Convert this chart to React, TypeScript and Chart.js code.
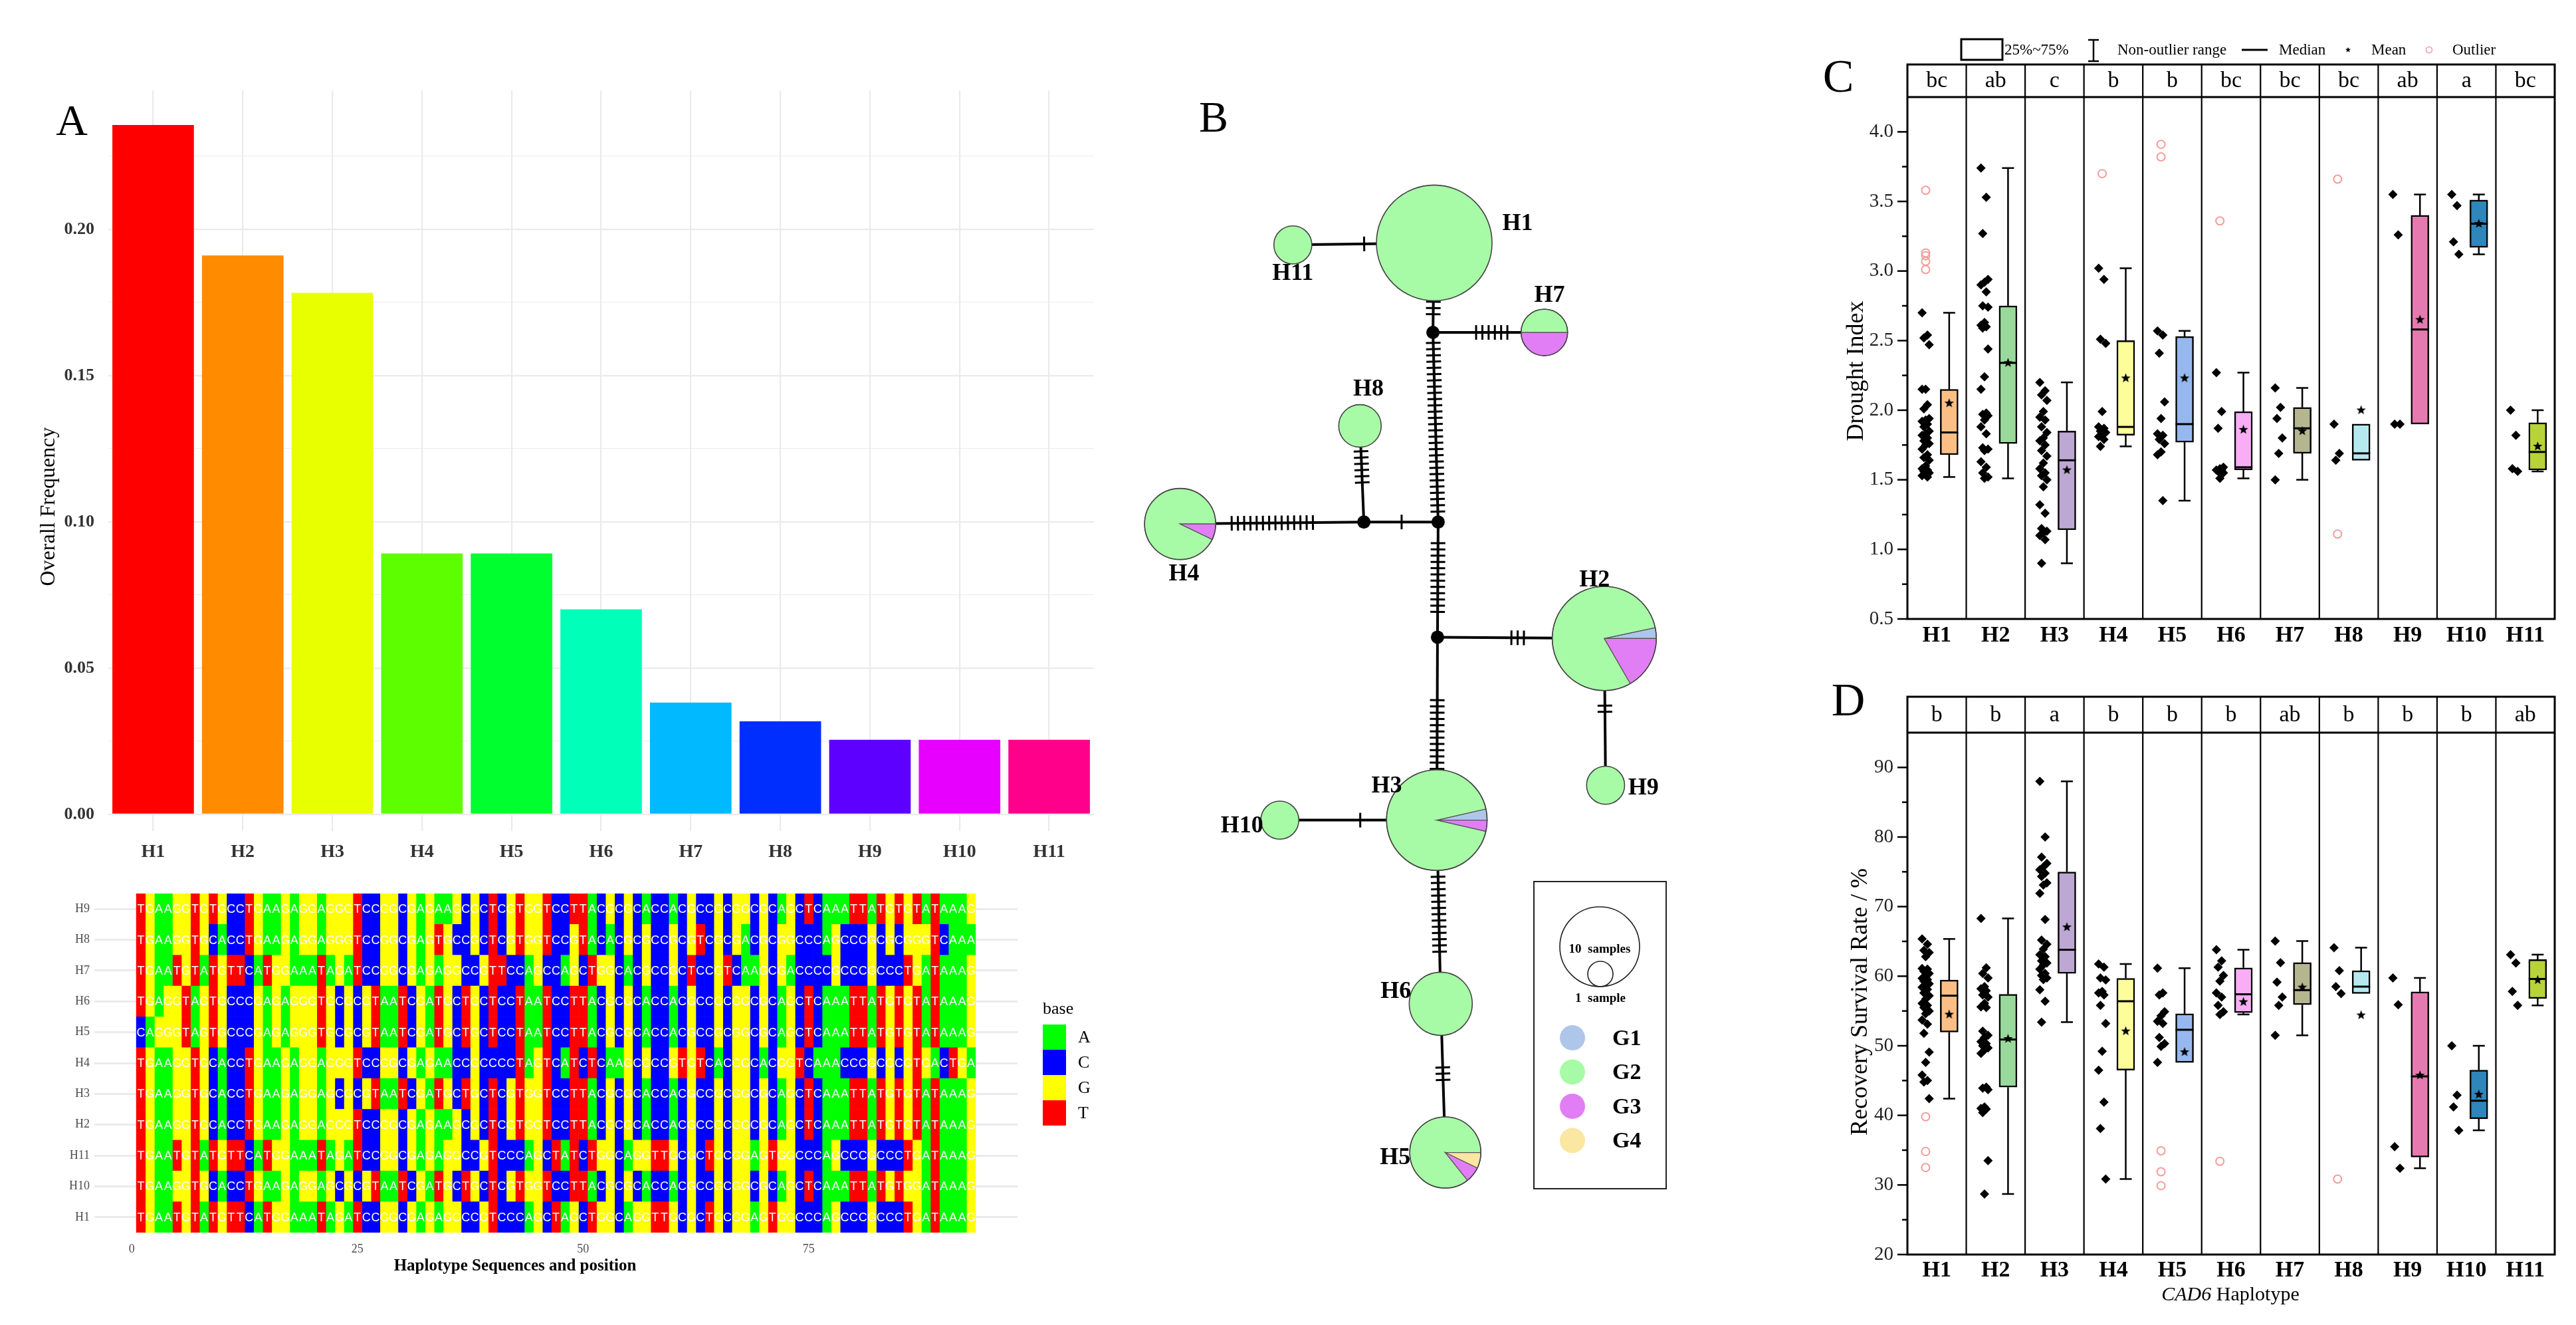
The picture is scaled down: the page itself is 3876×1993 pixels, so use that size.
import React, { useEffect, useRef } from 'react';
import { Chart, registerables } from 'chart.js';

Chart.register(...registerables);

const SERIF = '"Liberation Serif", "Times New Roman", Times, serif';
const SANS = '"Liberation Sans", Arial, sans-serif';

// ---------------- Panel A : haplotype frequency ----------------
const haplotypes = ['H1', 'H2', 'H3', 'H4', 'H5', 'H6', 'H7', 'H8', 'H9', 'H10', 'H11'];
const frequency = [0.2357, 0.1911, 0.1783, 0.0892, 0.0892, 0.0701, 0.0382, 0.0318, 0.0255, 0.0255, 0.0255];
const frequencyColors = ['#FF0000', '#FF8B00', '#E8FF00', '#5DFF00', '#00FF2E', '#00FFB9', '#00B9FF', '#002EFF', '#5D00FF', '#E800FF', '#FF008B'];
const frequencyTicks = [0, 0.025, 0.05, 0.075, 0.1, 0.125, 0.15, 0.175, 0.2, 0.225];
const frequencyLabelStep = 0.05;

// ---------------- Panel A : haplotype sequences ----------------
const sequenceRows = ['H9', 'H8', 'H7', 'H6', 'H5', 'H4', 'H3', 'H2', 'H11', 'H10', 'H1'];
const sequences = [
  'TGAAGGTGTGCCTGAAGAGGAGGG' + 'TCCGGCGAGAAGCGCTCGTGGTC' + 'CTTACGCGCACCACGCCGCGGCG' + 'CAGCTCAAATTATGTGTATAAAG', // H9
  'TGAAGGTGCACCTGAAGAGGAGGG' + 'TCCGGCGAGTGCCGCTCGTGGTC' + 'CGTACACGCGCCGCGTCGCGACG' + 'CGGCCCAGCCCGCGCGGGTCAAA', // H8
  'TGAATGTATGTTCATGGAAATAGA' + 'TCCGGCGAGAGGCCGTTCCAGCC' + 'AGCTGGCACGCCGCTCCGTCAAG' + 'CGACCCCGCCCGCCCTGATAAAG', // H7
  'TGAGGTAGTGCCCGAGAGGGTGCG' + 'CGTAATCGATGCTGCTCCTAATC' + 'CTTACGCGCACCACGCCGCGGCG' + 'CAGCTCAAATTATGTGTATAAAG', // H6
  'CAGGGTAGTGCCCGAGAGGGTGCG' + 'CGTAATCGATGCTGCTCCTAATC' + 'CTTACGCGCACCACGCCGCGGCG' + 'CAGCTCAAATTATGTGTATAAAG', // H5
  'TGAAGGTGCACCTGAAGAGGAGGG' + 'TCCGGCGAGAACCGCCCCTAGTC' + 'ATCTCAAGCGCCGTGTCACGGCA' + 'CGGTCAAACCCGCGCGTGACTGA', // H4
  'TGAAGGTGCACCTGAAGAGGAGCG' + 'CGTAATCGATGCTGCTCGTGGTC' + 'CTTACGCGCACCACGCCGCGGCG' + 'CAGCTCAAATTATGTGTATAAAG', // H3
  'TGAAGGTGCACCTGAAGAGGAGGG' + 'TCCGGCGAGAAGCGCTCGTGGTC' + 'CTTACGCGCACCACGCCGCGGCG' + 'CAGCTCAAATTATGTGTATAAAG', // H2
  'TGAATGTATGTTCATGGAAATAGA' + 'TCCGGCGAGAGGCCGTCCCAGCT' + 'ATCTGGCAGGTTGCGCTGCGGAG' + 'TGGCCCAGCCCGCCCTGATAAAG', // H11
  'TGAAGGTGCACCTGAAGAGGAGCG' + 'CGTAATCGATGCTGCTCGTGGTC' + 'CTTACGCGCACCACGCCGCGGCG' + 'CAGCTCAAATTATGTGGATAAAG', // H10
  'TGAATGTATGTTCATGGAAATAGA' + 'TCCGGCGAGAGGCCGTCCCAGCT' + 'AGCTGGCAGGTTGCGCTGCGGAG' + 'TGGCCCAGCCCGCCCTGATAAAG', // H1
];
const bases = ['A', 'C', 'G', 'T'];
const baseColors = ['#00FF00', '#0000FF', '#FFFF00', '#FF0000'];
const positionTicks = [0, 25, 50, 75];

// ---------------- Panel B : haplotype network ----------------
const netX = [45.7, 71.8, 46.1, 6.7, 47.4, 46.7, 62.6, 34.3, 72.0, 22.0, 24.0];
const netY = [35.9, 96.0, 123.6, 78.6, 174.1, 151.5, 49.5, 63.7, 118.3, 123.6, 36.2];
const groupNames = ['G1', 'G2', 'G3', 'G4'];
const groupColors = ['#AEC6EA', '#A8FBA6', '#E27EF5', '#FBE6A2'];
const groupG1 = [0, 1, 1, 0, 0, 0, 0, 0, 0, 0, 0];
const groupG2 = [37, 24, 26, 13, 12, 11, 3, 5, 4, 4, 4];
const groupG3 = [0, 5, 1, 1, 1, 0, 3, 0, 0, 0, 0];
const groupG4 = [0, 0, 0, 0, 1, 0, 0, 0, 0, 0, 0];
const medianNames = ['mv1', 'mv2', 'mv3', 'mv4'];
const medianX = [45.5, 46.3, 34.9, 46.2];
const medianY = [49.5, 78.3, 78.3, 95.8];
const edgeFrom = ['H11', 'H1', 'mv1', 'mv1', 'mv2', 'mv3', 'mv3', 'mv2', 'mv4', 'H2', 'mv4', 'H3', 'H3', 'H6'];
const edgeTo = ['H1', 'mv1', 'H7', 'mv2', 'mv3', 'H8', 'H4', 'mv4', 'H2', 'H9', 'H3', 'H10', 'H6', 'H5'];
const edgeMutations = [1, 3, 6, 28, 1, 6, 14, 12, 3, 2, 12, 1, 13, 3];
const edgeTickAt = [0.81, 0.29, 0.64, 0.5, 0.49, 0.71, 0.6, 0.48, 0.68, 0.24, 0.72, 0.3, 0.43, 0.47];
const labelDx = [12.8, -1.5, -7.7, 0.6, -7.7, -6.9, 0.8, 1.3, 5.8, -5.8, 0];
const labelDy = [-2.9, -8.9, -5.1, 7.6, 0.8, -1.8, -5.6, -5.5, 0.5, 0.9, 4.4];

// ---------------- Panels C / D : box plots ----------------
const boxColors = ['#FBBF86', '#99D99B', '#BDA8D4', '#FDFD9A', '#96B8EE', '#F9ADF6', '#B5B590', '#B5E9EF', '#E57AB0', '#2E86BA', '#B8D23A'];

const droughtPoints = [
  [2.70, 2.54, 2.52, 2.47, 2.15, 2.15, 2.04, 2.01, 1.94, 1.93, 1.92, 1.90, 1.88, 1.85, 1.83, 1.82, 1.80, 1.78, 1.76, 1.75, 1.72, 1.68, 1.66, 1.64, 1.60, 1.58, 1.57, 1.56, 1.55, 1.54, 1.53, 1.52],
  [3.74, 3.53, 3.27, 2.94, 2.92, 2.90, 2.85, 2.75, 2.74, 2.63, 2.61, 2.60, 2.59, 2.44, 2.24, 2.15, 1.98, 1.97, 1.96, 1.93, 1.88, 1.83, 1.73, 1.72, 1.71, 1.63, 1.59, 1.55, 1.52, 1.51],
  [2.20, 2.14, 2.11, 2.07, 1.99, 1.95, 1.93, 1.88, 1.84, 1.80, 1.78, 1.75, 1.71, 1.67, 1.62, 1.58, 1.55, 1.53, 1.50, 1.45, 1.32, 1.26, 1.15, 1.13, 1.12, 1.10, 1.07, 0.90],
  [3.02, 2.94, 2.51, 2.48, 1.99, 1.88, 1.87, 1.85, 1.84, 1.82, 1.81, 1.79, 1.74],
  [2.57, 2.54, 2.41, 2.06, 1.94, 1.83, 1.82, 1.79, 1.76, 1.70, 1.68, 1.35],
  [2.27, 1.99, 1.87, 1.59, 1.58, 1.57, 1.57, 1.56, 1.55, 1.51],
  [2.16, 2.02, 1.94, 1.80, 1.69, 1.50],
  [1.90, 1.69, 1.64],
  [3.55, 3.26, 1.90, 1.90],
  [3.55, 3.47, 3.21, 3.12],
  [2.00, 1.82, 1.58, 1.56],
];
const droughtOutliers = [[3.58, 3.13, 3.11, 3.07, 3.01], [], [], [3.70], [3.91, 3.82], [3.36], [], [3.66, 1.11], [], [], []];
const droughtQ1 = [1.68, 1.76, 1.14, 1.82, 1.77, 1.57, 1.69, 1.64, 1.90, 3.17, 1.57];
const droughtMedian = [1.84, 2.34, 1.64, 1.88, 1.90, 1.59, 1.87, 1.69, 2.58, 3.34, 1.70];
const droughtQ3 = [2.15, 2.75, 1.85, 2.50, 2.53, 1.99, 2.02, 1.90, 3.40, 3.51, 1.91];
const droughtWhiskerLow = [1.52, 1.51, 0.90, 1.74, 1.35, 1.51, 1.50, 1.64, 1.90, 3.12, 1.56];
const droughtWhiskerHigh = [2.70, 3.74, 2.20, 3.02, 2.57, 2.27, 2.16, 1.90, 3.55, 3.55, 2.00];
const droughtMean = [2.05, 2.34, 1.57, 2.23, 2.23, 1.86, 1.85, 2.00, 2.65, 3.34, 1.74];
const droughtLetters = ['bc', 'ab', 'c', 'b', 'b', 'bc', 'bc', 'bc', 'ab', 'a', 'bc'];
const droughtTicks = [0.5, 1.0, 1.5, 2.0, 2.5, 3.0, 3.5, 4.0];

const recoveryPoints = [
  [65.35, 64.6, 63.7, 63.4, 62.8, 61.1, 61.0, 60.7, 60.4, 60.1, 59.7, 59.5, 59.3, 58.9, 58.6, 58.4, 58.1, 57.6, 57.2, 56.7, 56.1, 55.8, 55.5, 55.0, 54.6, 53.7, 53.1, 51.8, 49.1, 47.6, 45.8, 45.0, 44.8, 42.4],
  [68.3, 61.2, 60.4, 59.75, 58.5, 58.2, 57.9, 57.3, 57.0, 56.1, 55.6, 55.5, 52.1, 51.5, 51.2, 50.6, 50.3, 50.0, 49.7, 49.4, 48.9, 44.05, 43.9, 43.7, 41.2, 41.0, 40.9, 40.4, 33.5, 28.7],
  [88.0, 80.0, 77.1, 76.2, 75.7, 75.3, 74.8, 74.35, 73.4, 73.1, 71.9, 68.15, 65.2, 64.6, 63.9, 63.1, 62.8, 62.2, 61.9, 61.6, 61.0, 60.4, 60.1, 59.75, 59.5, 58.05, 56.4, 53.4],
  [61.75, 61.3, 59.75, 59.45, 57.8, 57.6, 57.3, 55.8, 53.2, 49.2, 46.5, 41.9, 38.1, 30.85],
  [61.15, 57.6, 57.3, 54.9, 54.3, 53.5, 53.2, 51.2, 50.3, 49.9, 47.6],
  [63.8, 62.2, 61.3, 60.1, 59.3, 57.6, 57.0, 55.8, 54.9, 54.5],
  [65.05, 61.95, 59.15, 57.0, 55.8, 51.5],
  [64.1, 60.8, 58.5, 57.5],
  [59.75, 55.9, 35.5, 32.4],
  [50.0, 42.9, 41.2, 37.85],
  [63.1, 61.9, 57.8, 55.8],
];
const recoveryOutliers = [[39.8, 34.8, 32.5], [], [], [], [34.9, 31.9, 29.9], [33.4], [], [30.85], [], [], []];
const recoveryQ1 = [51.96, 44.05, 60.4, 46.5, 47.6, 54.75, 55.9, 57.5, 34.0, 39.5, 56.8];
const recoveryMedian = [57.2, 50.9, 63.8, 56.4, 52.3, 57.4, 58.0, 58.5, 45.6, 42.1, 59.6];
const recoveryQ3 = [59.45, 57.4, 74.97, 59.7, 54.6, 61.2, 61.95, 60.8, 57.75, 46.5, 62.4];
const recoveryWhiskerLow = [42.4, 28.7, 53.4, 30.85, 47.6, 54.5, 51.5, 57.5, 32.4, 37.85, 55.8];
const recoveryWhiskerHigh = [65.35, 68.3, 88.0, 61.75, 61.15, 63.8, 65.05, 64.1, 59.75, 50.0, 63.1];
const recoveryMean = [54.5, 51.0, 67.05, 52.1, 49.1, 56.3, 58.4, 54.4, 45.75, 43.0, 59.45];
const recoveryLetters = ['b', 'b', 'a', 'b', 'b', 'b', 'ab', 'b', 'b', 'b', 'ab'];
const recoveryTicks = [20, 30, 40, 50, 60, 70, 80, 90];

// ---------------- helpers ----------------
const isStep = (v: number, step: number) => Math.abs(v / step - Math.round(v / step)) < 1e-6;

const baseOptions = (padding: any) => ({
  animation: false,
  responsive: true,
  maintainAspectRatio: false,
  devicePixelRatio: 1,
  events: [],
  layout: { padding },
  plugins: { legend: { display: false }, tooltip: { enabled: false }, title: { display: false } },
});

function seg(ctx: CanvasRenderingContext2D, x1: number, y1: number, x2: number, y2: number) {
  ctx.beginPath();
  ctx.moveTo(x1, y1);
  ctx.lineTo(x2, y2);
  ctx.stroke();
}

function makeStar(r: number) {
  const c = document.createElement('canvas');
  c.width = c.height = Math.ceil(r * 2 + 2);
  const g = c.getContext('2d') as CanvasRenderingContext2D;
  g.translate(c.width / 2, c.height / 2);
  g.beginPath();
  for (let k = 0; k < 10; k++) {
    const rad = k % 2 === 0 ? r : r * 0.42;
    const a = -Math.PI / 2 + (k * Math.PI) / 5;
    g.lineTo(Math.cos(a) * rad, Math.sin(a) * rad);
  }
  g.closePath();
  g.fillStyle = '#000';
  g.fill();
  return c;
}

// ---------------- chart A1: frequency bars ----------------
const frequencyDecor = {
  id: 'frequencyDecor',
  afterDraw(chart: any) {
    const ctx = chart.ctx as CanvasRenderingContext2D;
    ctx.save();
    ctx.fillStyle = '#000';
    ctx.textAlign = 'center';
    ctx.textBaseline = 'middle';
    ctx.font = `66px ${SERIF}`;
    ctx.fillText('A', 108, 186);
    ctx.translate(74, 762);
    ctx.rotate(-Math.PI / 2);
    ctx.font = `32px ${SERIF}`;
    ctx.fillText('Overall Frequency', 0, 0);
    ctx.restore();
  },
};

function buildFrequencyChart() {
  return {
    type: 'bar',
    data: {
      labels: haplotypes,
      datasets: [{ data: frequency, backgroundColor: frequencyColors, borderWidth: 0, barPercentage: 0.91, categoryPercentage: 1 }],
    },
    options: {
      ...baseOptions({ left: 0, right: 54, top: 136, bottom: 0 }),
      scales: {
        x: {
          type: 'category',
          offset: true,
          grid: { offset: false, color: '#EBEBEB', lineWidth: 2.2, drawTicks: false },
          border: { display: false },
          ticks: { color: '#333333', font: { family: SERIF, size: 28, weight: 'bold' }, padding: 15, maxRotation: 0, autoSkip: false },
          afterFit: (s: any) => { s.height = 90; },
        },
        y: {
          type: 'linear',
          min: -0.0057,
          max: 0.2475,
          afterBuildTicks: (s: any) => { s.ticks = frequencyTicks.map((v) => ({ value: v })); },
          grid: {
            color: '#EBEBEB',
            lineWidth: (c: any) => (c.tick && isStep(c.tick.value, frequencyLabelStep) ? 2.2 : 1.1),
            drawTicks: false,
          },
          border: { display: false },
          ticks: {
            callback: (v: any) => (isStep(v, frequencyLabelStep) ? Number(v).toFixed(2) : ''),
            color: '#333333',
            font: { family: SERIF, size: 26, weight: 'bold' },
            padding: 21,
          },
          afterFit: (s: any) => { s.width = 163; },
        },
      },
    },
    plugins: [frequencyDecor],
  };
}

// ---------------- chart A2: sequence tiles ----------------
const sequenceDecor = {
  id: 'sequenceDecor',
  afterDatasetsDraw(chart: any) {
    const ctx = chart.ctx as CanvasRenderingContext2D;
    const { x, y } = chart.scales;
    ctx.save();
    ctx.fillStyle = '#FFFFFF';
    ctx.font = `18px ${SANS}`;
    ctx.textAlign = 'center';
    ctx.textBaseline = 'middle';
    sequences.forEach((s, r) => {
      const cy = y.getPixelForValue(r);
      for (let p = 1; p <= s.length; p++) ctx.fillText(s[p - 1], x.getPixelForValue(p), cy + 1);
    });
    ctx.restore();
  },
  afterDraw(chart: any) {
    const ctx = chart.ctx as CanvasRenderingContext2D;
    ctx.save();
    ctx.fillStyle = '#000';
    ctx.textBaseline = 'middle';
    ctx.textAlign = 'center';
    ctx.font = `bold 25px ${SERIF}`;
    ctx.fillText('Haplotype Sequences and position', 775, 585);
    ctx.textAlign = 'left';
    ctx.font = `26px ${SERIF}`;
    ctx.fillText('base', 1569, 198);
    bases.forEach((b, k) => {
      ctx.fillStyle = baseColors[k];
      ctx.fillRect(1569, 221 + k * 38, 35, 38);
      ctx.fillStyle = '#000';
      ctx.fillText(b, 1622, 241 + k * 38);
    });
    ctx.restore();
  },
};

function buildSequenceChart() {
  const positions = sequences[0].split('').map((_, i) => i + 1);
  const datasets = positions.map((p) => ({
    data: sequenceRows.map(() => [p - 0.5, p + 0.5]),
    backgroundColor: sequences.map((s) => baseColors[bases.indexOf(s[p - 1])]),
    borderWidth: 0,
    barPercentage: 1,
    categoryPercentage: 1,
    grouped: false,
  }));
  return {
    type: 'bar',
    data: { labels: sequenceRows, datasets },
    options: {
      ...baseOptions({ left: 0, right: 169, top: 24, bottom: 0 }),
      indexAxis: 'y',
      scales: {
        x: {
          type: 'linear',
          min: -4.15,
          max: 98.15,
          afterBuildTicks: (s: any) => { s.ticks = positionTicks.map((v) => ({ value: v })); },
          grid: { display: false, drawTicks: false },
          border: { display: false },
          ticks: { color: '#4D4D4D', font: { family: SERIF, size: 18 }, padding: 14 },
          afterFit: (s: any) => { s.height = 139; },
        },
        y: {
          type: 'category',
          offset: true,
          grid: { offset: false, color: '#EBEBEB', lineWidth: 3, drawTicks: false },
          border: { display: false },
          ticks: { color: '#4D4D4D', font: { family: SERIF, size: 18 }, padding: 7 },
          afterFit: (s: any) => { s.width = 142; },
        },
      },
    },
    plugins: [sequenceDecor],
  };
}

// ---------------- chart B: network ----------------
const NODE_R = 14.3; // px per sqrt(sample)
const MEDIAN_R = 10;

function nodeTotal(i: number) {
  return groupG1[i] + groupG2[i] + groupG3[i] + groupG4[i];
}
function nodePos(name: string) {
  const i = haplotypes.indexOf(name);
  if (i >= 0) return { x: netX[i], y: netY[i], r: NODE_R * Math.sqrt(nodeTotal(i)) };
  const j = medianNames.indexOf(name);
  return { x: medianX[j], y: medianY[j], r: MEDIAN_R };
}

const networkDecor = {
  id: 'networkDecor',
  afterDatasetsDraw(chart: any) {
    const ctx = chart.ctx as CanvasRenderingContext2D;
    const { x, y } = chart.scales;
    ctx.save();
    // mutation hatch marks
    ctx.strokeStyle = '#000';
    ctx.lineWidth = 3;
    edgeFrom.forEach((f, k) => {
      const a = nodePos(f);
      const b = nodePos(edgeTo[k]);
      const ax = x.getPixelForValue(a.x), ay = y.getPixelForValue(a.y);
      const bx = x.getPixelForValue(b.x), by = y.getPixelForValue(b.y);
      const len = Math.hypot(bx - ax, by - ay);
      const ux = (bx - ax) / len, uy = (by - ay) / len;
      const vis = len - a.r - b.r;
      const c = a.r + vis * edgeTickAt[k];
      const m = edgeMutations[k];
      const spacing = 9.4;
      for (let t = 0; t < m; t++) {
        const d = c + (t - (m - 1) / 2) * spacing;
        const px = ax + ux * d, py = ay + uy * d;
        seg(ctx, px - uy * 11, py + ux * 11, px + uy * 11, py - ux * 11);
      }
    });
    // pies
    haplotypes.forEach((_, i) => {
      const cx = x.getPixelForValue(netX[i]);
      const cy = y.getPixelForValue(netY[i]);
      const total = nodeTotal(i);
      const r = NODE_R * Math.sqrt(total);
      const counts = [groupG1[i], groupG2[i], groupG3[i], groupG4[i]];
      let ang = 0;
      counts.forEach((n, g) => {
        if (!n) return;
        const sweep = (n / total) * Math.PI * 2;
        ctx.beginPath();
        ctx.moveTo(cx, cy);
        ctx.arc(cx, cy, r, ang, ang - sweep, true);
        ctx.closePath();
        ctx.fillStyle = groupColors[g];
        ctx.fill();
        if (n < total) {
          ctx.strokeStyle = '#555';
          ctx.lineWidth = 1.2;
          ctx.stroke();
        }
        ang -= sweep;
      });
      ctx.beginPath();
      ctx.arc(cx, cy, r, 0, Math.PI * 2);
      ctx.strokeStyle = '#444';
      ctx.lineWidth = 1.6;
      ctx.stroke();
    });
    // labels
    ctx.fillStyle = '#000';
    ctx.font = `bold 36px ${SERIF}`;
    ctx.textAlign = 'center';
    ctx.textBaseline = 'middle';
    haplotypes.forEach((h, i) => {
      ctx.fillText(h, x.getPixelForValue(netX[i] + labelDx[i]), y.getPixelForValue(netY[i] + labelDy[i]));
    });
    ctx.restore();
  },
  afterDraw(chart: any) {
    const ctx = chart.ctx as CanvasRenderingContext2D;
    ctx.save();
    ctx.fillStyle = '#000';
    ctx.textAlign = 'center';
    ctx.textBaseline = 'middle';
    ctx.font = `66px ${SERIF}`;
    ctx.fillText('B', 126, 181);
    // legend box
    ctx.strokeStyle = '#222';
    ctx.lineWidth = 2;
    ctx.strokeRect(608, 1326, 199, 462);
    ctx.lineWidth = 1.6;
    ctx.beginPath();
    ctx.arc(707, 1424, 60, 0, Math.PI * 2);
    ctx.stroke();
    ctx.beginPath();
    ctx.arc(708, 1465, 19, 0, Math.PI * 2);
    ctx.stroke();
    ctx.font = `bold 19px ${SERIF}`;
    ctx.fillText('10  samples', 707, 1428);
    ctx.fillText('1  sample', 708, 1502);
    ctx.font = `bold 34px ${SERIF}`;
    ctx.textAlign = 'left';
    groupNames.forEach((g, k) => {
      const yy = 1561 + k * 51.5;
      ctx.beginPath();
      ctx.arc(666, yy, 19, 0, Math.PI * 2);
      ctx.fillStyle = groupColors[k];
      ctx.fill();
      ctx.fillStyle = '#000';
      ctx.fillText(g, 726, yy + 2);
    });
    ctx.restore();
  },
};

function buildNetworkChart() {
  const edgeSets = edgeFrom.map((f, k) => {
    const a = nodePos(f);
    const b = nodePos(edgeTo[k]);
    return {
      data: [{ x: a.x, y: a.y }, { x: b.x, y: b.y }],
      showLine: true,
      borderColor: '#000',
      borderWidth: 4,
      pointRadius: 0,
      order: 3,
    };
  });
  return {
    type: 'scatter',
    data: {
      datasets: [
        ...edgeSets,
        { data: haplotypes.map((_, i) => ({ x: netX[i], y: netY[i] })), pointRadius: 0, order: 2 },
        {
          data: medianNames.map((_, j) => ({ x: medianX[j], y: medianY[j] })),
          pointRadius: MEDIAN_R,
          backgroundColor: '#000',
          borderWidth: 0,
          order: 1,
        },
      ],
    },
    options: {
      ...baseOptions({ left: 0, right: 0, top: 0, bottom: 0 }),
      scales: {
        x: { type: 'linear', min: 0, max: 102, display: false },
        y: { type: 'linear', min: 0, max: 199.3, reverse: true, display: false },
      },
    },
    plugins: [networkDecor],
  };
}

// ---------------- charts C / D: box plots ----------------
const BOX_OFFSET = 0.21;
const POINT_OFFSET = -0.19;

function buildBoxChart(d: any) {
  const star = makeStar(7.5);
  const jitter = (j: number) => (((j * 3) % 5) - 2) * 0.03;
  const decor = {
    id: 'boxDecor',
    afterDatasetDraw(chart: any, args: any) {
      if (args.index !== 0) return;
      const ctx = chart.ctx as CanvasRenderingContext2D;
      const { x, y } = chart.scales;
      ctx.save();
      ctx.strokeStyle = '#000';
      haplotypes.forEach((_, i) => {
        const cx = x.getPixelForValue(i + 1 + BOX_OFFSET);
        const yq1 = y.getPixelForValue(d.q1[i]);
        const yq3 = y.getPixelForValue(d.q3[i]);
        ctx.lineWidth = 2.5;
        if (d.wHi[i] > d.q3[i] + 1e-9) {
          const yh = y.getPixelForValue(d.wHi[i]);
          seg(ctx, cx, yq3, cx, yh);
          seg(ctx, cx - 9, yh, cx + 9, yh);
        }
        if (d.wLo[i] < d.q1[i] - 1e-9) {
          const yl = y.getPixelForValue(d.wLo[i]);
          seg(ctx, cx, yq1, cx, yl);
          seg(ctx, cx - 9, yl, cx + 9, yl);
        }
        ctx.lineWidth = 3;
        const ym = y.getPixelForValue(d.median[i]);
        seg(ctx, cx - 13.5, ym, cx + 13.5, ym);
      });
      ctx.restore();
    },
    afterDraw(chart: any) {
      const ctx = chart.ctx as CanvasRenderingContext2D;
      const { x, y } = chart.scales;
      const { left, right, top, bottom } = chart.chartArea;
      ctx.save();
      ctx.strokeStyle = '#000';
      ctx.lineWidth = 3;
      ctx.strokeRect(left, d.stripTop, right - left, bottom - d.stripTop);
      seg(ctx, left, top, right, top);
      ctx.lineWidth = 2.2;
      for (let k = 1; k < haplotypes.length; k++) {
        const xx = x.getPixelForValue(k + 0.5);
        seg(ctx, xx, d.stripTop, xx, bottom);
      }
      // y tick marks (major / minor)
      ctx.lineWidth = 2.5;
      const n = Math.round((d.yMax - d.yMin) / d.minor);
      for (let k = 0; k < n; k++) {
        const v = d.yMin + k * d.minor;
        const py = y.getPixelForValue(v);
        const len = isStep(v, d.major) ? 15 : 8;
        seg(ctx, left, py, left - len, py);
      }
      // significance letters
      ctx.fillStyle = '#000';
      ctx.textAlign = 'center';
      ctx.textBaseline = 'middle';
      ctx.font = `34px ${SERIF}`;
      d.letters.forEach((l: string, i: number) => {
        ctx.fillText(l, x.getPixelForValue(i + 1), (d.stripTop + top) / 2 + 1);
      });
      // panel letter
      ctx.font = `70px ${SERIF}`;
      ctx.fillText(d.panel, d.panelX, d.panelY);
      // y title
      ctx.save();
      ctx.translate(d.yTitleX, d.yTitleY);
      ctx.rotate(-Math.PI / 2);
      ctx.font = `36px ${SERIF}`;
      ctx.fillText(d.yTitle, 0, 0);
      ctx.restore();
      // x title
      if (d.xTitle) {
        ctx.font = `italic 30px ${SERIF}`;
        const w1 = ctx.measureText('CAD6').width;
        ctx.font = `30px ${SERIF}`;
        const w2 = ctx.measureText(' Haplotype').width;
        const x0 = 636 - (w1 + w2) / 2;
        ctx.textAlign = 'left';
        ctx.font = `italic 30px ${SERIF}`;
        ctx.fillText('CAD6', x0, 948);
        ctx.font = `30px ${SERIF}`;
        ctx.fillText(' Haplotype', x0 + w1, 948);
      }
      // legend
      if (d.legend) {
        ctx.textAlign = 'left';
        ctx.font = `23px ${SERIF}`;
        ctx.lineWidth = 3;
        ctx.strokeRect(231, 59, 62, 31);
        ctx.fillText('25%~75%', 296, 76);
        ctx.lineWidth = 2.5;
        seg(ctx, 430, 60, 430, 92);
        seg(ctx, 422, 60, 438, 60);
        seg(ctx, 422, 92, 438, 92);
        ctx.fillText('Non-outlier range', 466, 76);
        ctx.lineWidth = 3;
        seg(ctx, 653, 75, 692, 75);
        ctx.fillText('Median', 709, 76);
        ctx.drawImage(star, 813 - 5, 75 - 5, 10, 10);
        ctx.fillText('Mean', 848, 76);
        ctx.strokeStyle = '#F49C9C';
        ctx.lineWidth = 1.6;
        ctx.beginPath();
        ctx.arc(935, 75, 4.5, 0, Math.PI * 2);
        ctx.stroke();
        ctx.fillText('Outlier', 970, 76);
      }
      ctx.restore();
    },
  };
  return {
    type: 'scatter',
    data: {
      datasets: [
        {
          type: 'bar',
          data: haplotypes.map((_, i) => ({ x: i + 1 + BOX_OFFSET, y: [d.q1[i], d.q3[i]] })),
          backgroundColor: boxColors,
          borderColor: '#000',
          borderWidth: 2.5,
          borderSkipped: false,
          barThickness: 27,
          order: 4,
        },
        {
          data: d.points.flatMap((arr: number[], i: number) => arr.map((v, j) => ({ x: i + 1 + POINT_OFFSET + jitter(j), y: v }))),
          pointStyle: 'rectRot',
          pointRadius: 7,
          backgroundColor: '#000',
          borderWidth: 0,
          order: 3,
        },
        {
          data: d.outliers.flatMap((arr: number[], i: number) => arr.map((v) => ({ x: i + 1 + POINT_OFFSET, y: v }))),
          pointStyle: 'circle',
          pointRadius: 6,
          borderColor: '#F49C9C',
          borderWidth: 2,
          backgroundColor: 'rgba(255,255,255,0)',
          order: 2,
        },
        {
          data: d.mean.map((m: number, i: number) => ({ x: i + 1 + BOX_OFFSET, y: m })),
          pointStyle: star,
          order: 1,
        },
      ],
    },
    options: {
      ...baseOptions({ left: 0, right: 32, top: d.padTop, bottom: 0 }),
      scales: {
        x: {
          type: 'linear',
          min: 0.5,
          max: 11.5,
          offset: false,
          afterBuildTicks: (s: any) => { s.ticks = haplotypes.map((_, i) => ({ value: i + 1 })); },
          grid: { display: false, drawTicks: false, offset: false },
          border: { display: false },
          ticks: {
            callback: (v: any) => haplotypes[Math.round(v) - 1],
            color: '#000',
            font: { family: SERIF, size: 34, weight: 'bold' },
            padding: d.xPad,
            maxRotation: 0,
            autoSkip: false,
          },
          afterFit: (s: any) => { s.height = d.xAxisH; },
        },
        y: {
          type: 'linear',
          min: d.yMin,
          max: d.yMax,
          afterBuildTicks: (s: any) => { s.ticks = d.ticks.map((v: number) => ({ value: v })); },
          grid: { display: false, drawTicks: false },
          border: { display: false },
          ticks: {
            callback: (v: any) => (d.decimals ? Number(v).toFixed(d.decimals) : String(v)),
            color: '#222',
            font: { family: SERIF, size: 29 },
            padding: 21,
          },
          afterFit: (s: any) => { s.width = 150; },
        },
      },
    },
    plugins: [decor],
  };
}

function buildDroughtChart() {
  return buildBoxChart({
    points: droughtPoints, outliers: droughtOutliers,
    q1: droughtQ1, median: droughtMedian, q3: droughtQ3,
    wLo: droughtWhiskerLow, wHi: droughtWhiskerHigh, mean: droughtMean,
    letters: droughtLetters, ticks: droughtTicks,
    yMin: 0.5, yMax: 4.25, major: 0.5, minor: 0.25, decimals: 1,
    padTop: 146, stripTop: 97, xAxisH: 69, xPad: 5,
    panel: 'C', panelX: 46, panelY: 120,
    yTitle: 'Drought Index', yTitleX: 74, yTitleY: 558,
    legend: true, xTitle: false,
  });
}

function buildRecoveryChart() {
  return buildBoxChart({
    points: recoveryPoints, outliers: recoveryOutliers,
    q1: recoveryQ1, median: recoveryMedian, q3: recoveryQ3,
    wLo: recoveryWhiskerLow, wHi: recoveryWhiskerHigh, mean: recoveryMean,
    letters: recoveryLetters, ticks: recoveryTicks,
    yMin: 20, yMax: 95, major: 10, minor: 5, decimals: 0,
    padTop: 102, stripTop: 48, xAxisH: 106, xPad: 4,
    panel: 'D', panelX: 61, panelY: 58,
    yTitle: 'Recovery Survival Rate / %', yTitleX: 80, yTitleY: 507,
    legend: false, xTitle: true,
  });
}

// ---------------- components ----------------
function ChartBox({ left, top, width, height, build }: { left: number; top: number; width: number; height: number; build: () => any }) {
  const ref = useRef<HTMLCanvasElement | null>(null);
  useEffect(() => {
    if (!ref.current) return;
    const chart = new Chart(ref.current, build());
    return () => chart.destroy();
  }, [build]);
  return (
    <div style={{ position: 'absolute', left, top, width, height }}>
      <canvas ref={ref} />
    </div>
  );
}

export default function App() {
  return (
    <div style={{ position: 'absolute', left: 0, top: 0, width: 3876, height: 1993, background: '#FFFFFF', overflow: 'hidden' }}>
      <ChartBox left={0} top={0} width={1700} height={1340} build={buildFrequencyChart} />
      <ChartBox left={0} top={1320} width={1700} height={673} build={buildSequenceChart} />
      <ChartBox left={1700} top={0} width={1020} height={1993} build={buildNetworkChart} />
      <ChartBox left={2720} top={0} width={1156} height={1000} build={buildDroughtChart} />
      <ChartBox left={2720} top={1000} width={1156} height={993} build={buildRecoveryChart} />
    </div>
  );
}
